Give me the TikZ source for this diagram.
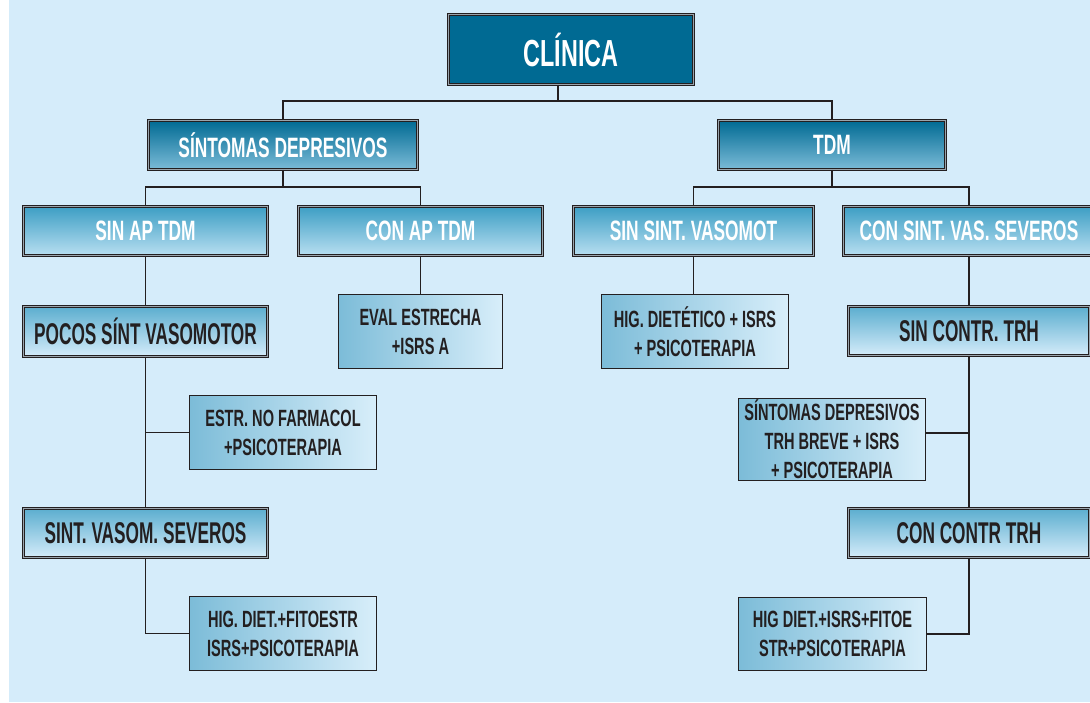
\documentclass[tikz,border=0pt]{standalone}
\usepackage{fontspec}
\setmainfont{Liberation Sans}[FakeStretch=0.62]
\newfontfamily\narrowfont{Liberation Sans}[FakeStretch=0.575]
\usetikzlibrary{calc}
\definecolor{bg}{HTML}{D5ECFA}
\definecolor{ink}{HTML}{231F20}
\definecolor{deep}{HTML}{006A93}
\definecolor{rimgray}{HTML}{9AA4AC}
\definecolor{midblue}{HTML}{3D9EC4}
\definecolor{paleblue}{HTML}{B8DFF1}
\definecolor{leafleft}{HTML}{7CBCD8}
\definecolor{leafright}{HTML}{D8EEFA}
\tikzset{
  frame/.style={draw=ink, line width=0.9pt, double=rimgray, double distance=1.6pt, inner sep=0pt, align=center},
  toplevel/.style={frame, fill=deep, text=white, font=\fontsize{37.7}{40}\selectfont\bfseries},
  levelone/.style={frame, top color=deep, middle color=deep!85!white, bottom color=leafleft, text=white, font=\fontsize{28}{30}\selectfont\bfseries},
  leveltwo/.style={frame, top color=midblue, middle color=midblue!55!paleblue, bottom color=paleblue, text=white, font=\fontsize{28}{30}\selectfont\bfseries},
  levelthree/.style={frame, top color=midblue!80!bg, middle color=bg!92!midblue, bottom color=bg, text=ink, font=\narrowfont\fontsize{30}{32}\selectfont\bfseries},
  leaf/.style={draw=ink, line width=1.6pt, left color=leafleft, right color=leafright, text=ink, inner sep=0pt, align=center, font=\fontsize{23.5}{29}\selectfont\bfseries},
  conn/.style={draw=ink, line width=1.8pt}
}
\newcommand\placebox[7]{\node[#6, minimum width={#4-#2-3}, minimum height={#5-#3-3}] (#1) at ({(#2+#4)/2},{(#3+#5)/2}) {#7};}
\begin{document}
\begin{tikzpicture}[x=1pt,y=-1pt]
\useasboundingbox (0,0) rectangle (1090,702);
\fill[bg] (9,0) rectangle (1090,702);

\placebox{clin}{447}{13}{695}{86}{toplevel}{CLÍNICA}
\placebox{sd}{147}{119}{419}{171}{levelone}{SÍNTOMAS DEPRESIVOS}
\placebox{tdm}{717}{119}{947}{171}{levelone}{TDM}
\placebox{sinap}{22}{205}{269}{257}{leveltwo}{SIN AP TDM}
\placebox{conap}{297}{205}{544}{257}{leveltwo}{CON AP TDM}
\placebox{sinsv}{572}{205}{815}{257}{leveltwo}{SIN SINT. VASOMOT}
\placebox{consv}{842}{205}{1096}{257}{leveltwo}{CON SINT. VAS. SEVEROS}
\placebox{pocos}{22}{305}{269}{358}{levelthree}{POCOS SÍNT VASOMOTOR}
\placebox{sevv}{22}{507}{269}{559}{levelthree}{SINT. VASOM. SEVEROS}
\placebox{sinctr}{847}{305}{1091}{357}{levelthree}{SIN CONTR. TRH}
\placebox{conctr}{847}{507}{1091}{559}{levelthree}{CON CONTR TRH}
\placebox{eval}{337}{293}{504}{370}{leaf}{EVAL ESTRECHA\\+ISRS A}
\placebox{higdiet}{600}{293}{790}{370}{leaf}{HIG. DIETÉTICO + ISRS\\+ PSICOTERAPIA}
\placebox{estr}{188}{394}{378}{471}{leaf}{ESTR. NO FARMACOL\\+PSICOTERAPIA}
\placebox{sdtrh}{737}{397}{927}{482}{leaf}{SÍNTOMAS DEPRESIVOS\\TRH BREVE + ISRS\\+ PSICOTERAPIA}
\placebox{hig1}{188}{595}{378}{672}{leaf}{HIG. DIET.+FITOESTR\\ISRS+PSICOTERAPIA}
\placebox{hig2}{737}{596}{928}{672}{leaf}{HIG DIET.+ISRS+FITOE\\STR+PSICOTERAPIA}

\coordinate (bus0) at (558,101);
\draw[conn] (bus0 |- clin.south) -- (bus0);
\draw[conn] (sd.north) |- (bus0) -| (tdm.north);
\coordinate (bus1) at (283,187);
\draw[conn] (sd.south) -- (bus1);
\draw[conn] (sinap.north) |- (bus1) -| (conap.north);
\coordinate (bus2) at (832,187);
\draw[conn] (tdm.south) -- (bus2);
\draw[conn] (sinsv.north) |- (bus2) -| (consv.north);

\draw[conn] (sinap.south) -- (pocos.north);
\draw[conn] (conap.south) -- (conap.south |- eval.north);
\draw[conn] (pocos.south) -- (sevv.north);
\draw[conn] (estr.west) -- (estr.west -| pocos.south);
\draw[conn] (sevv.south) |- (hig1.west);

\draw[conn] (sinsv.south) -- (sinsv.south |- higdiet.north);
\draw[conn] (consv.south) -- (sinctr.north);
\draw[conn] (sinctr.south) -- (conctr.north);
\coordinate (sdjoin) at ($(sdtrh.north east)!0.42!(sdtrh.south east)$);
\draw[conn] (sdjoin) -- (sdjoin -| sinctr.south);
\draw[conn] (conctr.south) |- (hig2.east);
\end{tikzpicture}
\end{document}
